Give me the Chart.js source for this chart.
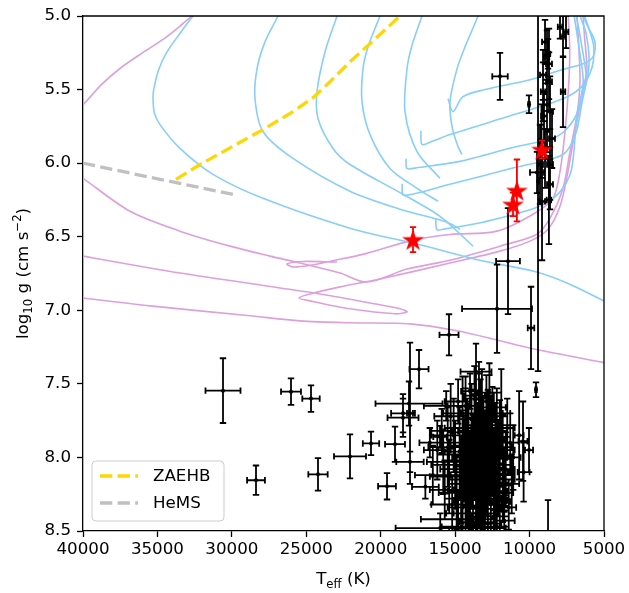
<!DOCTYPE html>
<html>
<head>
<meta charset="utf-8">
<script src="https://cdn.jsdelivr.net/npm/chart.js@4.4.1/dist/chart.umd.min.js"></script>
<style>html,body{margin:0;padding:0;background:#fff}</style>
</head>
<body>
<canvas id="hrd" width="629" height="593" style="width:629px;height:593px"></canvas>
<script>
// [Teff, log g] along each evolutionary track
const pinkTrackA = [[40500,5.64],[40000,5.603],[38800,5.47],[37500,5.355],[36000,5.25],[34500,5.15],[33500,5.07],[32677,5.0],[32300,4.97]];
const pinkTrackB = [[40500,6.07],[40000,6.103],[36843,6.327],[33484,6.462],[30125,6.564],[27438,6.632],[25422,6.679],[22735,6.747],[20921,6.808],[18234,6.72],[15345,6.66],[11986,6.564],[9500,6.483],[8627,6.374],[7754,6.171],[7284,5.921],[6813,5.67],[6612,5.45],[6700,5.2],[6813,5.0],[6850,4.97]];
const pinkTrackC = [[22937,6.672],[25220,6.668],[26300,6.685],[25900,6.705],[24800,6.695],[23300,6.665],[21000,6.615],[17831,6.523],[15345,6.485],[12187,6.462],[9769,6.347],[8426,6.239],[7955,6.056],[7620,5.785],[7400,5.515],[7300,5.244],[7400,5.0],[7420,4.97]];
const pinkTrackD = [[40500,6.62],[40000,6.632],[33484,6.747],[26766,6.848],[24079,6.889],[20720,6.95],[18704,6.99],[18234,7.011],[19040,7.024],[22063,6.99],[24750,6.936],[25490,6.916],[24750,6.889],[22735,6.841],[20048,6.787],[15345,6.679],[11986,6.598],[9970,6.53],[8761,6.449],[7955,6.293],[7485,6.09],[6948,5.785],[6300,5.45],[6142,5.36],[6300,5.15],[6410,5.0],[6420,4.97]];
const pinkTrackE = [[40500,6.91],[40000,6.916],[35499,6.97],[28781,7.037],[25422,7.072],[22063,7.085],[18033,7.092],[14875,7.139],[11986,7.207],[9769,7.261],[5000,7.356],[4500,7.37]];

const blueTrackA = [[32300,4.97],[32610,5.0],[33500,5.12],[34357,5.244],[34900,5.36],[35250,5.5],[35297,5.562],[35200,5.66],[34827,5.738],[33484,5.9],[31267,6.076],[27908,6.239],[22063,6.442],[17563,6.55],[13128,6.665],[9769,6.733],[7485,6.814],[5000,6.936],[4500,6.96]];
const blueTrackB = [[26800,4.97],[26900,5.0],[27774,5.176],[28311,5.359],[28445,5.562],[27908,5.785],[25893,5.968],[22063,6.191],[18704,6.313],[15547,6.401],[14673,6.449]];
const blueTrackC = [[22850,4.97],[22937,5.0],[23744,5.244],[24280,5.515],[24213,5.697],[23206,5.9],[22063,6.009],[18704,6.2],[16017,6.361],[13800,6.564]];
const blueTrackD = [[19950,4.97],[20048,5.0],[20854,5.21],[21190,5.359],[21257,5.582],[20720,5.806],[19376,6.036],[17563,6.171],[16151,6.259]];
const blueTrackE = [[17150,4.97],[17226,5.0],[17900,5.2],[18234,5.359],[18368,5.65],[17563,5.921],[16017,6.103]];
const blueTrackF = [[13400,4.97],[13464,5.0],[14338,5.21],[14875,5.359],[15345,5.582],[15211,5.751],[14808,5.887],[14539,5.941]];
const blueTrackG = [[15479,5.562],[15143,5.65],[14472,5.548],[13000,5.5],[9970,5.433],[8000,5.37],[6410,5.325],[5738,5.278],[5604,5.176],[6074,5.074],[6410,5.0],[6450,4.97]];
const blueTrackH = [[17300,5.78],[17226,5.873],[16500,5.85],[15345,5.806],[12000,5.7],[7754,5.562],[6500,5.48],[5806,5.35],[5700,5.2],[6100,5.06],[6300,5.0],[6330,4.97]];
const blueTrackI = [[18300,5.97],[18234,6.036],[17500,6.03],[14673,5.988],[11000,5.89],[8157,5.819],[7000,5.7],[6300,5.5],[6000,5.32],[6200,5.12],[6600,5.0],[6630,4.97]];
const blueTrackJ = [[18550,6.14],[18502,6.215],[17800,6.21],[15345,6.144],[11000,6.03],[7754,5.941],[6900,5.8],[6500,5.6],[6200,5.42],[6500,5.2],[6850,5.0],[6880,4.97]];
const blueTrackK = [[16300,6.38],[16219,6.452],[15600,6.445],[13128,6.401],[9500,6.3],[8000,6.2],[7200,6.05],[6813,5.67],[6400,5.45],[6700,5.2],[7000,5.0],[7030,4.97]];

const zaehb = [[33752,6.11],[32140,6.009],[27908,5.772],[25893,5.65],[24549,5.555],[23408,5.447],[22063,5.311],[20384,5.156],[18704,5.0]];
const hems = [[40000,6.0],[34827,6.11],[29587,6.219]];

// [Teff, log g, Teff error, log g error]
const ourStars = [[17831,6.52,0,0.085],[10850,6.185,0,0.21],[11113,6.28,0,0.08],[9164,5.907,0,0.06]];

const literature = [
  [8963,5.176,200,0.15],[7955,5.074,150,0.08],[7552,5.108,150,0.11],[8829,5.278,150,0.18],
  [8694,5.325,200,0.24],[8761,5.257,150,0.1],[9097,5.40,200,0.17],[8694,5.447,200,0.2],
  [9097,5.515,150,0.2],[8829,5.603,200,0.17],[8627,5.65,200,0.24],[7753,5.515,150,0.24],
  [8493,5.833,200,0.2],[8963,5.968,200,0.2],[9299,6.009,200,0.27],[8627,6.009,200,0.24],
  [8627,6.144,200,0.17],[9164,6.26,200,0.4],[9500,6.063,470,0.14],[10037,5.60,50,0.06],
  [11986,5.41,520,0.16],[9433,6.124,50,1.29],[7753,5.14,150,0.14],[8829,5.785,200,0.14],
  [9030,5.68,200,0.17],[8700,6.25,150,0.3],[9200,5.85,200,0.25],
  [30595,7.546,1176,0.22],[26027,7.553,670,0.09],[24683,7.60,585,0.09],[28378,8.155,600,0.1],
  [24213,8.115,650,0.11],[22063,7.993,1075,0.15],[20652,7.905,550,0.08],[19577,8.196,600,0.09],
  [19040,7.91,670,0.12],[18100,7.634,2250,0.15],[18502,7.70,800,0.13],[18502,7.73,1040,0.13],
  [17428,7.40,640,0.13],[18033,7.70,200,0.48],[18033,8.03,920,0.07],[15412,7.167,640,0.14],
  [13598,7.417,1040,0.19],[12187,6.99,2350,0.3],[11448,6.666,800,0.36],[9904,7.12,220,0.28],
  [9567,7.54,50,0.05],[10441,7.89,300,0.27],[10037,7.95,270,0.15],[8761,8.52,50,0.23],
  [16017,7.86,450,0.075],
  [14800,7.62,900,0.15],[14000,7.55,600,0.12],[13700,7.58,700,0.2],[12900,7.62,500,0.18],
  [12400,7.66,800,0.1],[15300,7.72,1100,0.22],[14500,7.70,1300,0.25],[13900,7.74,900,0.2],
  [13400,7.73,1000,0.3],[12800,7.76,700,0.22],[12200,7.78,900,0.25],[11500,7.80,500,0.2],
  [15900,7.82,700,0.15],[15100,7.85,1500,0.25],[14300,7.83,1200,0.3],[13600,7.86,800,0.28],
  [13100,7.84,1100,0.22],[12600,7.88,900,0.3],[12000,7.86,700,0.25],[11300,7.90,600,0.2],
  [16200,7.95,900,0.2],[15500,7.93,1300,0.27],[14700,7.96,1000,0.3],[14100,7.92,1400,0.25],
  [13500,7.95,900,0.32],[13000,7.98,1200,0.3],[12500,7.96,800,0.25],[11800,7.99,700,0.28],
  [11100,8.00,500,0.22],[15800,8.03,1100,0.22],[15000,8.05,1600,0.3],[14400,8.02,1000,0.28],
  [13800,8.06,1200,0.35],[13300,8.04,900,0.3],[12700,8.07,1100,0.25],[12100,8.05,800,0.3],
  [11600,8.08,600,0.25],[16500,8.12,1200,0.2],[15400,8.13,1300,0.25],[14600,8.15,900,0.3],
  [14000,8.12,1500,0.28],[13400,8.16,1000,0.3],[12900,8.14,1200,0.25],[12300,8.17,900,0.28],
  [11700,8.15,700,0.22],[11200,8.18,500,0.2],[15700,8.22,1000,0.2],[14900,8.24,1200,0.25],
  [14200,8.22,900,0.25],[13600,8.25,1300,0.28],[13000,8.23,800,0.25],[12400,8.26,1000,0.22],
  [11800,8.24,700,0.2],[15200,8.32,1400,0.2],[14500,8.34,1000,0.2],[13800,8.33,800,0.22],
  [13200,8.35,1100,0.2],[12600,8.32,900,0.2],[12000,8.36,600,0.18],[11400,8.34,500,0.15],
  [14800,8.42,2500,0.15],[13500,8.44,1200,0.18],[12800,8.45,900,0.15],[11700,8.43,700,0.12],
  [16000,8.48,3000,0.1],[13900,8.50,1500,0.12],[12200,8.47,800,0.1],[15600,7.65,1500,0.1],
  [16700,7.90,700,0.1],[17000,8.20,900,0.08],[10700,7.85,300,0.3],[10400,8.10,400,0.2],
  [13200,7.70,1400,0.3],[12700,7.72,1200,0.28],[13900,7.80,1800,0.3],[13300,7.82,1500,0.35],
  [12500,7.82,1000,0.3],[14200,7.90,2000,0.3],[13700,7.92,1600,0.35],[13100,7.90,1300,0.32],
  [12300,7.93,1100,0.3],[14500,7.98,1700,0.3],[13900,8.00,1300,0.35],[13200,8.00,1700,0.3],
  [12600,8.01,1400,0.3],[14100,8.08,1900,0.3],[13500,8.10,1400,0.32],[12900,8.09,1600,0.3],
  [12400,8.11,1200,0.3],[13800,8.18,1700,0.3],[13100,8.20,1300,0.28],[12600,8.19,1500,0.28],
  [14300,8.28,1400,0.25],[13300,8.29,1800,0.25],[12800,8.28,1100,0.25],[12200,8.30,900,0.22],
  [13600,8.38,1500,0.2],[13000,8.40,1200,0.2],[12400,8.40,1000,0.18],[14100,8.47,1800,0.15],
  [13100,8.48,1500,0.12],[12700,7.56,800,0.2],[13400,7.60,1000,0.25],[14300,7.65,1200,0.2],
  [11900,7.70,600,0.3],[12000,8.12,1000,0.35],[12800,7.95,1800,0.35],[13500,8.23,2000,0.3],
  [14000,8.38,1600,0.2]
];

const xTicks = [40000,35000,30000,25000,20000,15000,10000,5000];
const yTicks = [5.0,5.5,6.0,6.5,7.0,7.5,8.0,8.5];

const FONT = '"DejaVu Sans", sans-serif';
const PLUM = '#DDA0DD', SKY = '#87CEFA';

const xy = arr => arr.map(p => ({x: p[0], y: p[1]}));
const xye = arr => arr.map(p => ({x: p[0], y: p[1], xe: p[2], ye: p[3]}));

function track(points, color) {
  return {data: xy(points), showLine: true, borderColor: color, borderWidth: 1.6,
          pointRadius: 0, tension: 0.3, fill: false};
}

// filled five-point star like the matplotlib '*' marker
const starImg = document.createElement('canvas');
starImg.width = 26; starImg.height = 26;
(function () {
  const c = starImg.getContext('2d');
  const R = 11.5, r = R * 0.382;
  c.beginPath();
  for (let i = 0; i < 10; i++) {
    const a = -Math.PI / 2 + i * Math.PI / 5;
    const rad = i % 2 ? r : R;
    c.lineTo(13 + rad * Math.cos(a), 14 + rad * Math.sin(a));
  }
  c.closePath();
  c.fillStyle = '#ff0000';
  c.fill();
})();

const errorBars = {
  id: 'errorBars',
  beforeDatasetDraw(chart, args) {
    const ds = chart.data.datasets[args.index];
    if (!ds.errorColor) return;
    const {ctx, chartArea: a, scales: {x, y}} = chart;
    const cap = 3.2;
    ctx.save();
    ctx.beginPath();
    ctx.rect(a.left, a.top, a.right - a.left, a.bottom - a.top);
    ctx.clip();
    ctx.strokeStyle = ds.errorColor;
    ctx.lineWidth = 1.8;
    ctx.beginPath();
    ds.data.forEach(p => {
      const px = x.getPixelForValue(p.x), py = y.getPixelForValue(p.y);
      if (p.xe) {
        const x0 = x.getPixelForValue(p.x - p.xe), x1 = x.getPixelForValue(p.x + p.xe);
        ctx.moveTo(x0, py); ctx.lineTo(x1, py);
        ctx.moveTo(x0, py - cap); ctx.lineTo(x0, py + cap);
        ctx.moveTo(x1, py - cap); ctx.lineTo(x1, py + cap);
      }
      if (p.ye) {
        const y0 = y.getPixelForValue(p.y - p.ye), y1 = y.getPixelForValue(p.y + p.ye);
        ctx.moveTo(px, y0); ctx.lineTo(px, y1);
        ctx.moveTo(px - cap, y0); ctx.lineTo(px + cap, y0);
        ctx.moveTo(px - cap, y1); ctx.lineTo(px + cap, y1);
      }
    });
    ctx.stroke();
    ctx.restore();
  }
};

function drawParts(ctx, parts, cx, base) {
  let w = 0;
  parts.forEach(p => { ctx.font = p[1] + 'px ' + FONT; p.w = ctx.measureText(p[0]).width; w += p.w; });
  let x = cx - w / 2;
  parts.forEach(p => { ctx.font = p[1] + 'px ' + FONT; ctx.fillText(p[0], x, base + p[2]); x += p.w; });
}

const decorations = {
  id: 'decorations',
  afterDraw(chart) {
    const {ctx, chartArea: a} = chart;
    ctx.save();
    // top and right spines
    ctx.strokeStyle = '#000';
    ctx.lineWidth = 1.3;
    ctx.beginPath();
    ctx.moveTo(a.left, a.top); ctx.lineTo(a.right, a.top); ctx.lineTo(a.right, a.bottom);
    ctx.stroke();

    // axis titles with sub/superscripts
    ctx.fillStyle = '#000';
    ctx.textAlign = 'left';
    ctx.textBaseline = 'alphabetic';
    drawParts(ctx, [['T', 16.7, 0], ['eff', 11.7, 4], [' (K)', 16.7, 0]], (a.left + a.right) / 2, 584);
    ctx.save();
    ctx.translate(28, (a.top + a.bottom) / 2);
    ctx.rotate(-Math.PI / 2);
    drawParts(ctx, [['log', 16.7, 0], ['10', 11.7, 4], [' g (cm s', 16.7, 0], ['\u22122', 11.7, -7], [')', 16.7, 0]], 0, 0);
    ctx.restore();

    // legend box
    const lx = a.left + 9, ly = a.bottom - 70, lw = 132, lh = 60, rr = 4;
    ctx.beginPath();
    ctx.moveTo(lx + rr, ly);
    ctx.arcTo(lx + lw, ly, lx + lw, ly + lh, rr);
    ctx.arcTo(lx + lw, ly + lh, lx, ly + lh, rr);
    ctx.arcTo(lx, ly + lh, lx, ly, rr);
    ctx.arcTo(lx, ly, lx + lw, ly, rr);
    ctx.closePath();
    ctx.fillStyle = 'rgba(255,255,255,0.8)';
    ctx.fill();
    ctx.strokeStyle = '#cccccc';
    ctx.lineWidth = 1;
    ctx.stroke();
    const entries = [['ZAEHB', '#FFD700'], ['HeMS', '#C0C0C0']];
    entries.forEach((e, i) => {
      const yy = ly + 15 + i * 27;
      ctx.strokeStyle = e[1];
      ctx.lineWidth = 3.3;
      ctx.setLineDash([12.3, 5.3]);
      ctx.beginPath();
      ctx.moveTo(lx + 8, yy); ctx.lineTo(lx + 46, yy);
      ctx.stroke();
      ctx.setLineDash([]);
      ctx.fillStyle = '#000';
      ctx.font = '16.7px ' + FONT;
      ctx.textBaseline = 'middle';
      ctx.fillText(e[0], lx + 61, yy + 1);
    });
    ctx.restore();
  }
};

new Chart(document.getElementById('hrd'), {
  type: 'scatter',
  data: {
    datasets: [
      {label: 'This work', data: xye(ourStars), pointStyle: starImg, pointRadius: 11, errorColor: '#ff0000'},
      {label: 'Literature', data: xye(literature), pointRadius: 2, pointBackgroundColor: '#000', pointBorderWidth: 0, errorColor: '#000'},
      {label: 'ZAEHB', data: xy(zaehb), showLine: true, borderColor: '#FFD700', borderWidth: 3.3, borderDash: [12.3, 5.3], pointRadius: 0, tension: 0},
      {label: 'HeMS', data: xy(hems), showLine: true, borderColor: '#C0C0C0', borderWidth: 3.3, borderDash: [12.3, 5.3], pointRadius: 0, tension: 0},
      track(blueTrackA, SKY), track(blueTrackB, SKY), track(blueTrackC, SKY), track(blueTrackD, SKY),
      track(blueTrackE, SKY), track(blueTrackF, SKY), track(blueTrackG, SKY), track(blueTrackH, SKY),
      track(blueTrackI, SKY), track(blueTrackJ, SKY), track(blueTrackK, SKY),
      track(pinkTrackA, PLUM), track(pinkTrackB, PLUM), track(pinkTrackC, PLUM),
      track(pinkTrackD, PLUM), track(pinkTrackE, PLUM)
    ]
  },
  options: {
    responsive: false,
    animation: false,
    events: [],
    layout: {padding: {top: 14, right: 25, left: 0, bottom: 0}},
    scales: {
      x: {
        type: 'linear', reverse: true, min: 5000, max: 40000,
        afterFit: s => { s.height = 62; },
        afterBuildTicks: s => { s.ticks = xTicks.map(v => ({value: v})); },
        ticks: {autoSkip: false, maxRotation: 0, padding: 3, color: '#000',
                font: {family: FONT, size: 16.7}, callback: v => String(v)},
        grid: {drawOnChartArea: false, drawTicks: true, tickLength: 6, tickWidth: 1.3, tickColor: '#000'},
        border: {display: true, color: '#000', width: 1.3}
      },
      y: {
        type: 'linear', reverse: true, min: 5, max: 8.5,
        afterFit: s => { s.width = 83; },
        afterBuildTicks: s => { s.ticks = yTicks.map(v => ({value: v})); },
        ticks: {padding: 6, color: '#000', font: {family: FONT, size: 16.7},
                callback: v => v.toFixed(1)},
        grid: {drawOnChartArea: false, drawTicks: true, tickLength: 6, tickWidth: 1.3, tickColor: '#000'},
        border: {display: true, color: '#000', width: 1.3}
      }
    },
    plugins: {legend: {display: false}, tooltip: {enabled: false}}
  },
  plugins: [errorBars, decorations]
});
</script>
</body>
</html>
